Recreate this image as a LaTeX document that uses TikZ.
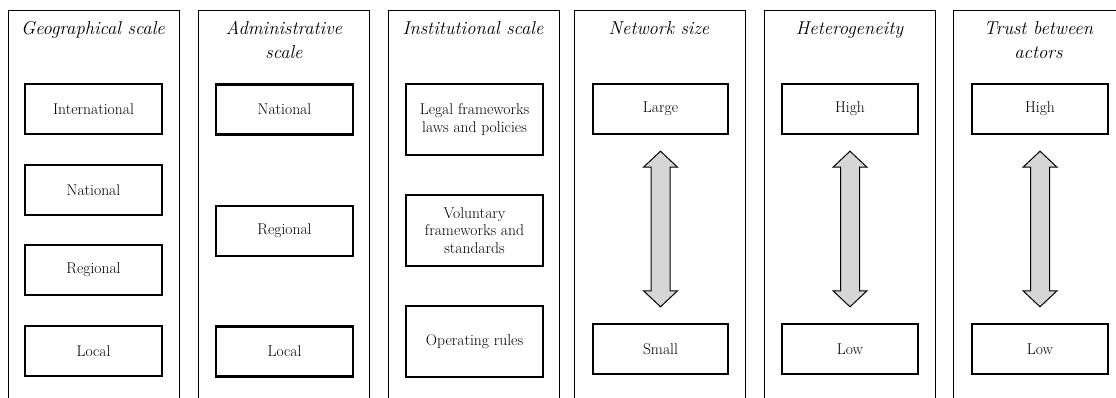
\documentclass[tikz,border=0pt]{standalone}
\usepackage{fontspec}
\usetikzlibrary{calc}
\newcommand\vdblarrow[2]{%
  \draw[bigarrow] (#1) -- ($(#1)+(17,16)$) -- ($(#1)+(9.5,16)$) -- ($(#2)+(9.5,-16)$)
    -- ($(#2)+(17,-16)$) -- (#2) -- ($(#2)+(-17,-16)$) -- ($(#2)+(-9.5,-16)$)
    -- ($(#1)+(-9.5,16)$) -- ($(#1)+(-17,16)$) -- cycle;}
\begin{document}
\begin{tikzpicture}[x=1pt,y=-1pt,
  column/.style={draw, line width=1.4pt, minimum width=171pt, minimum height=430pt, anchor=north west, inner sep=0pt},
  item/.style={draw, line width=2.4pt, minimum width=137pt, minimum height=50pt, align=center,
     font=\fontsize{15.6}{17.5}\selectfont, inner sep=2pt},
  tallitem/.style={item, minimum height=71pt},
  coltitle/.style={font=\fontsize{18.6}{23.5}\selectfont\itshape, align=center, anchor=north, inner sep=0pt},
  bigarrow/.style={draw, line width=1pt, fill=black!16, line join=miter}]
\useasboundingbox (0,0) rectangle (1116,398);
\clip (0,0) rectangle (1116,398);
% columns
\node[column] (c1) at (8,10) {};
\node[column] (c2) at (198,10) {};
\node[column] (c3) at (388,10) {};
\node[column] (c4) at (574,10) {};
\node[column] (c5) at (764,10) {};
\node[column] (c6) at (953,10) {};
% titles
\node[coltitle] (t1) at (93,21.5) {Geographical scale};
\node[coltitle] (t2) at (284,21.5) {Administrative\\scale};
\node[coltitle] (t3) at (473,21.5) {Institutional scale};
\node[coltitle] (t4) at (659,21.5) {Network size};
\node[coltitle] (t5) at (849.5,21.5) {Heterogeneity};
\node[coltitle] (t6) at (1038.5,21.5) {Trust between\\actors};
% column 1
\node[item] (g1) at (93.5,109) {International};
\node[item] (g2) at (93.5,190) {National};
\node[item] (g3) at (93.5,270) {Regional};
\node[item] (g4) at (93.5,351) {Local};
% column 2
\node[item] (a1) at (284.5,109.5) {National};
\node[item] (a2) at (284.5,231) {Regional};
\node[item] (a3) at (284.5,351.5) {Local};
% column 3
\node[tallitem] (i1) at (474.5,119.5) {Legal frameworks\\laws and policies};
\node[tallitem] (i2) at (474.5,230.5) {Voluntary\\frameworks and\\standards};
\node[tallitem] (i3) at (474.5,341.5) {Operating rules};
% column 4
\node[item, minimum width=135pt] (n1) at (660.5,109) {Large};
\node[item, minimum width=135pt] (n2) at (660.5,349) {Small};
% column 5
\node[item, minimum width=136pt] (h1) at (850,109) {High};
\node[item, minimum width=136pt] (h2) at (850,349) {Low};
% column 6
\node[item, minimum width=136pt] (r1) at (1040,109) {High};
\node[item, minimum width=136pt] (r2) at (1040,349) {Low};
% arrows
\coordinate (n1t) at ($(n1.south)+(0,16)$);
\coordinate (n2t) at ($(n2.north)+(0,-16)$);
\coordinate (h1t) at ($(h1.south)+(0,16)$);
\coordinate (h2t) at ($(h2.north)+(0,-16)$);
\coordinate (r1t) at ($(r1.south)+(0,16)$);
\coordinate (r2t) at ($(r2.north)+(0,-16)$);
\vdblarrow{n1t}{n2t}
\vdblarrow{h1t}{h2t}
\vdblarrow{r1t}{r2t}
\end{tikzpicture}
\end{document}
